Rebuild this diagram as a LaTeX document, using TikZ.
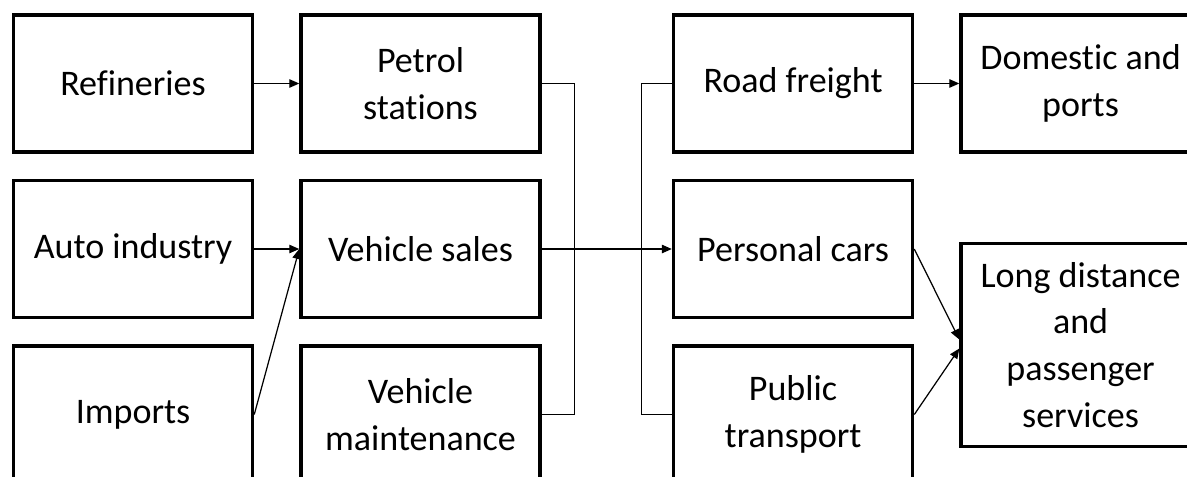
\documentclass[tikz,border=0pt]{standalone}
\usepackage{fontspec}
\setmainfont{Carlito}[Ligatures=NoCommon]
\usepackage{tikz}
\usetikzlibrary{arrows.meta, positioning}
\tikzset{
  box/.style={rectangle, draw=black, line width=2pt,
    minimum width=4.78cm, minimum height=2.74cm, align=center,
    inner sep=0pt, font=\fontsize{20.5}{26.7}\selectfont},
  arrow/.style={-{Triangle[length=0.2cm, width=0.17cm]}, line width=0.7pt, color=black},
  line/.style={line width=0.7pt, color=black}
}

\begin{document}
\begin{tikzpicture}[node distance=0.5cm and 0.9cm]
  \useasboundingbox (0,0) rectangle (23.74,-9.54);
  \clip (0,0) rectangle (23.74,-9.54);

  % Nodes
  \node[box] (refin) at (2.66,-1.67) {Refineries};
  \node[box, below=of refin] (auto) {Auto industry};
  \node[box, below=of auto] (imports) {Imports};
  \node[box, right=of refin] (petrol) {Petrol\\stations};
  \node[box, below=of petrol] (sales) {Vehicle sales};
  \node[box, below=of sales] (maint) {Vehicle\\maintenance};
  \node[box, right=2.6cm of petrol] (freight) {Road freight};
  \node[box, below=of freight] (cars) {Personal cars};
  \node[box, below=of cars] (public) {Public\\transport};
  \node[box, right=of freight] (domestic) {Domestic and\\ports};
  \node[box, minimum height=4.06cm, right=of cars, yshift=-1.92cm] (longdist) {Long distance\\and\\passenger\\services};

  % Arrows
  \draw[arrow] (refin) -- (petrol);
  \draw[arrow] (auto) -- (sales);
  \draw[arrow] (imports.east) -- (sales.west);
  \draw[line] (petrol.east) -- ++(0.66,0) |- (maint.east);
  \draw[line] (freight.west) -- ++(-0.6,0) |- (public.west);
  \draw[arrow] (sales) -- (cars);
  \draw[arrow] (freight) -- (domestic);
  \draw[arrow] (cars.east) -- ([yshift=0.11cm]longdist.west);
  \draw[arrow] (public.east) -- ([yshift=-0.07cm]longdist.west);
\end{tikzpicture}
\end{document}
